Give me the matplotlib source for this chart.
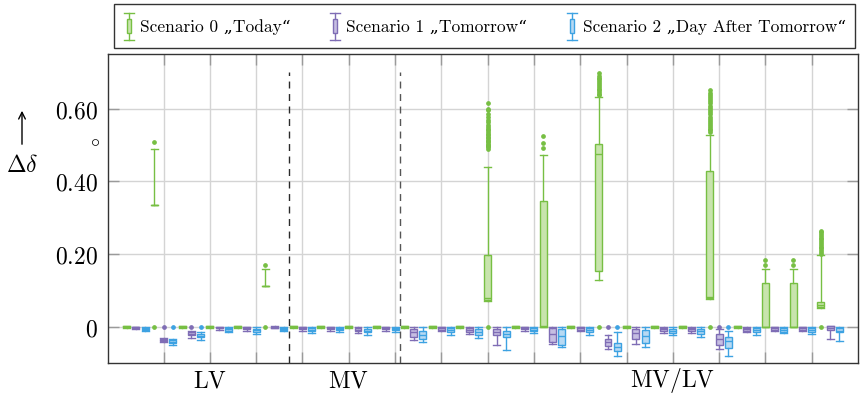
import matplotlib
matplotlib.use("Agg")
import matplotlib.pyplot as plt
from matplotlib.patches import Patch, Rectangle
from matplotlib.lines import Line2D
from matplotlib.legend_handler import HandlerBase
import matplotlib.transforms as mtransforms

plt.rcParams['mathtext.fontset'] = 'cm'

# ---- data -------------------------------------------------------------
scenarios = ['Scenario 0 „Today“', 'Scenario 1 „Tomorrow“',
             'Scenario 2 „Day After Tomorrow“']
n_groups = 26
region_labels = ['LV', 'MV', 'MV/LV']
region_label_pos = [10, 25, 60]
region_split = [18.5, 30.5]

FLAT = (0.0, -0.0015, 0.0015, -0.003, 0.003)

# Scenario 0 "Today": (median, q1, q3, lower whisker, upper whisker)
s0_stats = [FLAT,
            (0.334, 0.334, 0.334, 0.334, 0.489),
            FLAT, FLAT, FLAT,
            (0.111, 0.111, 0.111, 0.111, 0.158),
            FLAT, FLAT, FLAT, FLAT, FLAT, FLAT, FLAT,
            (0.078, 0.074, 0.198, 0.070, 0.438),
            FLAT,
            (0.003, 0.000, 0.345, 0.000, 0.473),
            FLAT,
            (0.476, 0.152, 0.503, 0.127, 0.632),
            FLAT, FLAT, FLAT,
            (0.082, 0.079, 0.429, 0.075, 0.528),
            FLAT,
            (0.000, 0.000, 0.120, 0.000, 0.159),
            (0.000, 0.000, 0.120, 0.000, 0.159),
            (0.060, 0.053, 0.068, 0.052, 0.196)]
s0_fliers = [[], [0.0, 0.509], [], [], [], [0.0, 0.169],
             [], [], [], [], [], [], [],
             [0.0, 0.490, 0.493, 0.497, 0.500, 0.503, 0.507, 0.510, 0.514,
              0.518, 0.522, 0.526, 0.530, 0.535, 0.540, 0.545, 0.550, 0.556,
              0.562, 0.568, 0.578, 0.585, 0.595, 0.600, 0.616],
             [],
             [0.491, 0.505, 0.524],
             [],
             [0.0, 0.636, 0.640, 0.645, 0.650, 0.655, 0.660, 0.665, 0.670,
              0.675, 0.680, 0.685, 0.690, 0.698],
             [], [], [],
             [0.0, 0.535, 0.540, 0.545, 0.550, 0.555, 0.560, 0.566, 0.572,
              0.578, 0.584, 0.590, 0.596, 0.602, 0.608, 0.614, 0.620, 0.626,
              0.632, 0.638, 0.644, 0.650],
             [],
             [0.170, 0.182],
             [0.170, 0.182],
             [0.0, 0.200, 0.205, 0.210, 0.215, 0.220, 0.225, 0.230, 0.235,
              0.240, 0.245, 0.250, 0.255, 0.260, 0.264]]

# Scenario 1 "Tomorrow"
s1_stats = [(-0.002, -0.004, -0.001, -0.006, 0.000),
            (-0.036, -0.039, -0.033, -0.042, -0.030),
            (-0.020, -0.024, -0.016, -0.031, -0.013),
            (-0.003, -0.005, -0.001, -0.008, 0.000),
            (-0.004, -0.007, -0.002, -0.011, 0.000),
            (-0.001, -0.003, 0.000, -0.004, 0.001),
            (-0.004, -0.007, -0.002, -0.013, 0.000),
            (-0.004, -0.007, -0.002, -0.011, 0.000),
            (-0.008, -0.012, -0.004, -0.017, 0.000),
            (-0.004, -0.007, -0.002, -0.011, 0.000),
            (-0.015, -0.028, -0.007, -0.037, 0.000),
            (-0.005, -0.009, -0.002, -0.013, 0.000),
            (-0.008, -0.015, -0.004, -0.019, 0.000),
            (-0.015, -0.024, -0.007, -0.050, 0.000),
            (-0.004, -0.007, -0.002, -0.011, 0.000),
            (-0.020, -0.042, -0.004, -0.048, 0.000),
            (-0.005, -0.009, -0.002, -0.013, 0.000),
            (-0.042, -0.053, -0.035, -0.061, -0.024),
            (-0.018, -0.035, -0.006, -0.048, 0.000),
            (-0.007, -0.011, -0.004, -0.017, 0.000),
            (-0.007, -0.011, -0.003, -0.018, 0.000),
            (-0.033, -0.050, -0.020, -0.062, -0.007),
            (-0.006, -0.011, -0.004, -0.015, 0.000),
            (-0.004, -0.008, -0.002, -0.011, 0.000),
            (-0.004, -0.008, -0.002, -0.011, 0.000),
            (-0.004, -0.008, 0.001, -0.033, 0.003)]
s1_fliers = [[], [0.0], [0.0]] + [[]] * 14 + [[0.0], [], [], [], [0.0]] + [[]] * 4

# Scenario 2 "Day After Tomorrow"
s2_stats = [(-0.007, -0.010, -0.004, -0.013, 0.000),
            (-0.042, -0.046, -0.038, -0.051, -0.033),
            (-0.025, -0.029, -0.020, -0.036, -0.015),
            (-0.007, -0.011, -0.004, -0.015, 0.000),
            (-0.010, -0.015, -0.006, -0.020, 0.000),
            (-0.006, -0.009, -0.003, -0.013, 0.000),
            (-0.008, -0.012, -0.004, -0.017, 0.000),
            (-0.007, -0.010, -0.004, -0.015, 0.000),
            (-0.011, -0.016, -0.007, -0.024, 0.000),
            (-0.007, -0.010, -0.004, -0.015, 0.000),
            (-0.022, -0.035, -0.011, -0.042, 0.000),
            (-0.010, -0.015, -0.005, -0.022, 0.000),
            (-0.015, -0.024, -0.007, -0.030, 0.000),
            (-0.020, -0.029, -0.011, -0.064, 0.000),
            (-0.008, -0.012, -0.004, -0.018, 0.000),
            (-0.025, -0.050, -0.007, -0.057, 0.000),
            (-0.010, -0.015, -0.005, -0.022, 0.000),
            (-0.057, -0.068, -0.044, -0.081, -0.015),
            (-0.025, -0.044, -0.009, -0.057, 0.000),
            (-0.012, -0.017, -0.007, -0.024, 0.000),
            (-0.012, -0.020, -0.007, -0.028, 0.000),
            (-0.040, -0.059, -0.028, -0.081, -0.013),
            (-0.010, -0.016, -0.004, -0.024, 0.000),
            (-0.008, -0.014, -0.004, -0.018, 0.000),
            (-0.009, -0.015, -0.005, -0.020, 0.000),
            (-0.012, -0.015, -0.004, -0.040, 0.000)]
s2_fliers = [[], [0.0], [0.0]] + [[]] * 14 + [[0.0], [], [], [], [0.0]] + [[]] * 4

y_ticks = [0.0, 0.2, 0.4, 0.6]
y_ticklabels = ['0', '0.20', '0.40', '0.60']

# ---- styling ----------------------------------------------------------
edge_colors = ['#77bf43', '#7f6db5', '#3da2e2']
fill_colors = ['#c8e4ad', '#c6bee2', '#b7d9f3']

fig = plt.figure(figsize=(8.6, 3.96), dpi=100)
ax = fig.add_axes([108 / 860, 33 / 396, 750 / 860, 309 / 396])

all_stats = [s0_stats, s1_stats, s2_stats]
all_fliers = [s0_fliers, s1_fliers, s2_fliers]

for k in range(3):
    stats = []
    for (med, q1, q3, lo, hi), fl in zip(all_stats[k], all_fliers[k]):
        stats.append(dict(med=med, q1=q1, q3=q3, whislo=lo, whishi=hi,
                          fliers=fl))
    positions = [3 * g + 1 + k for g in range(n_groups)]
    ec, fc = edge_colors[k], fill_colors[k]
    ax.bxp(stats, positions=positions, widths=0.75, capwidths=0.75,
           patch_artist=True, manage_ticks=False,
           boxprops=dict(facecolor=fc, edgecolor=ec, linewidth=1.0),
           whiskerprops=dict(color=ec, linewidth=1.0),
           capprops=dict(color=ec, linewidth=1.0),
           medianprops=dict(color=ec, linewidth=1.0),
           flierprops=dict(marker='o', markerfacecolor=ec,
                           markeredgecolor=ec, markersize=2.4,
                           linestyle='none'),
           zorder=3)

for xs, col in zip(region_split, ['#2a2a2a', '#555555']):
    ax.plot([xs, xs], [-0.1, 0.70], color=col, linestyle=(0, (5, 4)),
            linewidth=1.0, zorder=4)

ax.set_xlim(-1, 80)
ax.set_ylim(-0.1, 0.75)
ax.set_xticks(range(5, 80, 5))
ax.set_xticklabels([])
ax.set_yticks(y_ticks)
ax.set_yticklabels(['$' + t + '$' for t in y_ticklabels], fontsize=17)
ax.grid(True, color='#d4d4d4', linewidth=1.0, zorder=0)
ax.set_axisbelow(True)
ax.tick_params(direction='in', length=8, width=1.0, color='#9a9a9a',
               top=True, right=True, pad=7)
for sp in ax.spines.values():
    sp.set_color('#333333')
    sp.set_linewidth(1.0)

trans = mtransforms.blended_transform_factory(ax.transData, ax.transAxes)
for lbl, xp in zip(region_labels, region_label_pos):
    ax.text(xp, -0.058, r'$\mathrm{' + lbl + '}$', transform=trans,
            ha='center', va='center', fontsize=17)

# axis quantity: arrow, symbol and unit
fig.patches.append(matplotlib.patches.FancyArrowPatch(
    (22 / 860, 1 - 147 / 396), (22 / 860, 1 - 108 / 396),
    transform=fig.transFigure, arrowstyle='->', mutation_scale=12,
    color='black', linewidth=1.0))
fig.text(22 / 860, 1 - 165 / 396, r'$\Delta\delta$', ha='center',
         va='center', fontsize=17)
fig.text(95 / 860, 1 - 141 / 396, r'$\circ$', ha='center', va='center',
         fontsize=13)


class BoxIconHandler(HandlerBase):
    def create_artists(self, legend, orig_handle, xdescent, ydescent,
                       width, height, fontsize, trans):
        ec = orig_handle.get_edgecolor()
        fc = orig_handle.get_facecolor()
        cx = width / 2 - xdescent
        y0 = -ydescent
        bw = width * 0.35
        cw = width * 0.8
        artists = [
            Line2D([cx, cx], [y0, y0 + height], color=ec, lw=1.0),
            Line2D([cx - cw / 2, cx + cw / 2], [y0, y0], color=ec, lw=1.0),
            Line2D([cx - cw / 2, cx + cw / 2], [y0 + height, y0 + height],
                   color=ec, lw=1.0),
            Rectangle((cx - bw / 2, y0 + height * 0.25), bw, height * 0.5,
                      facecolor=fc, edgecolor=ec, lw=1.0),
        ]
        for a in artists:
            a.set_transform(trans)
        return artists


handles = [Patch(facecolor=fill_colors[k], edgecolor=edge_colors[k])
           for k in range(3)]
leg = fig.legend(handles, scenarios, loc='upper left', ncol=3,
                 bbox_to_anchor=(114 / 860, 1 - 4 / 396, 741 / 860, 0),
                 mode='expand', handler_map={Patch: BoxIconHandler()},
                 prop=dict(family=['cmr10', 'DejaVu Serif'], size=12.5),
                 frameon=True, fancybox=False, edgecolor='black',
                 handlelength=0.7, handleheight=2.0, handletextpad=0.3,
                 borderpad=0.5, columnspacing=2.0, borderaxespad=0)
leg.get_frame().set_linewidth(1.0)

fig.savefig('out.png', dpi=100)
